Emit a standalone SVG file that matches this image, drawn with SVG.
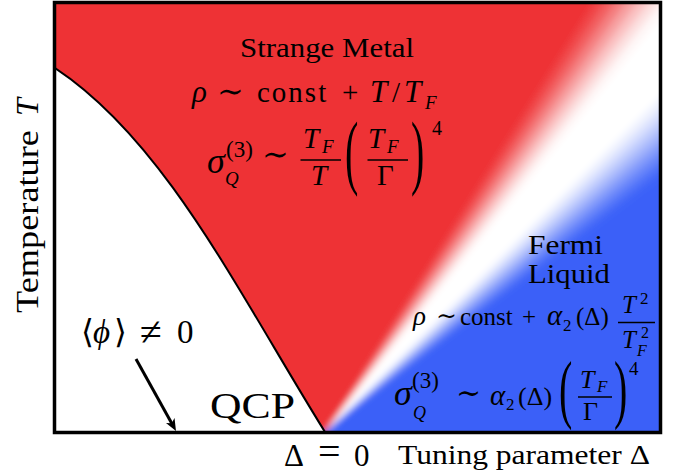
<svg xmlns="http://www.w3.org/2000/svg" width="683" height="474" viewBox="0 0 683 474">
<defs>
<style>
text{font-family:"Liberation Serif","DejaVu Serif","DejaVu Sans",serif;fill:#000}
.i{font-style:italic}
.bar{stroke:#000;stroke-width:1.5}
.conn{stroke:#000;stroke-width:3;fill:none}
</style>
<clipPath id="frameclip"><rect x="55" y="3" width="605" height="429"/></clipPath>
<filter id="soft" x="-10%" y="-10%" width="120%" height="120%"><feGaussianBlur stdDeviation="3"/></filter>
<marker id="ah" viewBox="0 0 12 10" refX="4" refY="5" markerWidth="13" markerHeight="10" markerUnits="userSpaceOnUse" orient="auto"><path d="M0,0 L12,5 L0,10 L3,5 Z" fill="#000"/></marker>
</defs>
<rect width="683" height="474" fill="#fff"/>

<g id="phase-regions" clip-path="url(#frameclip)">
 <g id="crossover-fan" filter="url(#soft)">
  <rect x="0" y="0" width="683" height="474" fill="rgb(58,96,248)"/>
  <polygon points="325,432 1043.8,-109.6 -1000,-1000 -1000,432" fill="rgb(65,101,248)"/>
  <polygon points="325,432 1034.2,-122.1 -1000,-1000 -1000,432" fill="rgb(83,117,249)"/>
  <polygon points="325,432 1024.4,-134.4 -1000,-1000 -1000,432" fill="rgb(108,136,250)"/>
  <polygon points="325,432 1014.4,-146.5 -1000,-1000 -1000,432" fill="rgb(135,158,251)"/>
  <polygon points="325,432 1004.2,-158.5 -1000,-1000 -1000,432" fill="rgb(164,181,252)"/>
  <polygon points="325,432 993.8,-170.2 -1000,-1000 -1000,432" fill="rgb(192,204,253)"/>
  <polygon points="325,432 983.3,-181.8 -1000,-1000 -1000,432" fill="rgb(218,225,254)"/>
  <polygon points="325,432 972.4,-193.2 -1000,-1000 -1000,432" fill="rgb(240,243,254)"/>
  <polygon points="325,432 961.4,-204.4 -1000,-1000 -1000,432" fill="#fff"/>
  <polygon points="325,432 891.4,-267.4 -1000,-1000 -1000,432" fill="rgb(254,247,247)"/>
  <polygon points="325,432 879.1,-277.2 -1000,-1000 -1000,432" fill="rgb(252,224,224)"/>
  <polygon points="325,432 866.6,-286.7 -1000,-1000 -1000,432" fill="rgb(250,194,195)"/>
  <polygon points="325,432 854.0,-296.1 -1000,-1000 -1000,432" fill="rgb(247,161,162)"/>
  <polygon points="325,432 841.2,-305.3 -1000,-1000 -1000,432" fill="rgb(244,127,128)"/>
  <polygon points="325,432 828.3,-314.1 -1000,-1000 -1000,432" fill="rgb(242,95,97)"/>
  <polygon points="325,432 815.1,-322.8 -1000,-1000 -1000,432" fill="rgb(240,69,71)"/>
  <polygon points="325,432 801.9,-331.2 -1000,-1000 -1000,432" fill="rgb(238,50,52)"/>
 </g>
 <path id="ordered-phase" d="M55,68 C165,140.6 238,292 325,432 L55,432 Z" fill="#fff"/>
 <path id="phase-boundary" d="M55,68 C165,140.6 238,292 325,432" fill="none" stroke="#000" stroke-width="2"/>
</g>
<rect id="frame" x="54.5" y="2.5" width="606" height="430" fill="none" stroke="#000" stroke-width="3.5"/>

<g id="connectors">
 <line class="conn" x1="136" y1="359" x2="172.1" y2="424" marker-end="url(#ah)"/>
</g>

<g id="strange-metal">
 <text x="327" y="57" font-size="28" text-anchor="middle" textLength="174" lengthAdjust="spacingAndGlyphs">Strange Metal</text>
 <text y="102" font-size="29"><tspan x="192" class="i" font-size="31">ρ</tspan><tspan x="217" font-size="32">∼</tspan><tspan x="257" letter-spacing="2">const</tspan><tspan x="342">+</tspan><tspan x="370" class="i" font-size="31">T</tspan><tspan x="392">/</tspan><tspan x="404" class="i" font-size="31">T</tspan><tspan x="425" y="109" font-size="19" class="i">F</tspan></text>
 <text font-size="29"><tspan x="207" y="173" class="i" font-size="36">σ</tspan><tspan x="226" y="157" font-size="23">(3)</tspan><tspan x="225" y="185" font-size="19" class="i">Q</tspan><tspan x="262" y="165" font-size="32">∼</tspan><tspan x="303" y="148" class="i">T</tspan><tspan x="322" y="153" font-size="19" class="i">F</tspan><tspan x="311" y="185" class="i">T</tspan><tspan x="368" y="148" class="i">T</tspan><tspan x="387" y="153" font-size="19" class="i">F</tspan><tspan x="377" y="185">Γ</tspan><tspan x="432" y="135" font-size="20">4</tspan></text>
 <line class="bar" x1="300.5" y1="160" x2="341" y2="160"/>
 <line class="bar" x1="367.5" y1="160" x2="408" y2="160"/>
 <text transform="translate(345,178.5) scale(1,2.05)" font-size="40">(</text>
 <text transform="translate(411,178.5) scale(1,2.05)" font-size="40">)</text>
</g>

<g id="fermi-liquid">
 <text x="528" y="254" font-size="27" textLength="75" lengthAdjust="spacingAndGlyphs">Fermi</text>
 <text x="528" y="283" font-size="27" textLength="82" lengthAdjust="spacingAndGlyphs">Liquid</text>
 <text y="325" font-size="25"><tspan x="413" class="i" font-size="27">ρ</tspan><tspan x="436" y="324" font-size="25">∼</tspan><tspan x="460" y="325">const</tspan><tspan x="522">+</tspan><tspan x="547" class="i" font-size="29">α</tspan><tspan x="563" y="331" font-size="17">2</tspan><tspan x="576" y="325">(Δ)</tspan><tspan x="622" y="312.7" class="i">T</tspan><tspan x="640" y="304" font-size="17">2</tspan><tspan x="622" y="348" class="i">T</tspan><tspan x="637" y="356" font-size="16" class="i">F</tspan><tspan x="641" y="338" font-size="16">2</tspan></text>
 <line class="bar" x1="618" y1="322.5" x2="655" y2="322.5"/>
 <text font-size="26"><tspan x="394" y="405" class="i" font-size="36">σ</tspan><tspan x="412" y="388" font-size="23">(3)</tspan><tspan x="413" y="419" font-size="18" class="i">Q</tspan><tspan x="456" y="403" font-size="30">∼</tspan><tspan x="490" y="405" class="i" font-size="29">α</tspan><tspan x="506" y="410" font-size="17">2</tspan><tspan x="518" y="405">(Δ)</tspan><tspan x="580" y="388" class="i">T</tspan><tspan x="597" y="392" font-size="17" class="i">F</tspan><tspan x="583" y="420">Γ</tspan><tspan x="629" y="375" font-size="19">4</tspan></text>
 <line class="bar" x1="578" y1="397" x2="612" y2="397"/>
 <text transform="translate(559,413.7) scale(1,1.88)" font-size="40">(</text>
 <text transform="translate(614,413.7) scale(1,1.88)" font-size="40">)</text>
</g>

<g id="ordered-label">
 <text y="343" font-size="33"><tspan x="81">⟨</tspan><tspan x="93" class="i">ϕ</tspan><tspan x="114">⟩</tspan><tspan x="140" y="345" font-size="40">≠</tspan><tspan x="177" y="343">0</tspan></text>
</g>

<g id="qcp">
 <text x="210" y="418" font-size="36" textLength="85" lengthAdjust="spacingAndGlyphs">QCP</text>
</g>

<g id="axis-x">
 <text y="466" font-size="31"><tspan x="284">Δ</tspan><tspan x="318" y="465" font-size="40">=</tspan><tspan x="354" y="466">0</tspan></text>
 <text x="398" y="464" font-size="28" textLength="252" lengthAdjust="spacingAndGlyphs">Tuning parameter Δ</text>
</g>

<g id="axis-y">
 <text transform="rotate(-90)" x="-313" y="38" font-size="31" textLength="183" lengthAdjust="spacingAndGlyphs">Temperature</text>
 <text transform="rotate(-90)" x="-116" y="38" font-size="32" class="i">T</text>
</g>
</svg>
